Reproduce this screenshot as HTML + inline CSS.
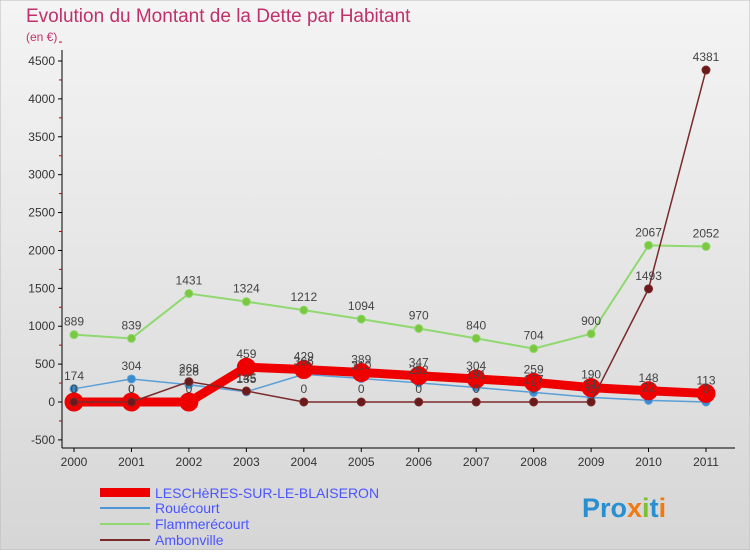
<!DOCTYPE html>
<html><head><meta charset="utf-8"><style>
body{margin:0;width:750px;height:550px;overflow:hidden;font-family:"Liberation Sans",sans-serif}
</style></head><body>
<svg width="750" height="550" xmlns="http://www.w3.org/2000/svg">
<defs><linearGradient id="bg" x1="0" y1="0" x2="0" y2="1"><stop offset="0" stop-color="#f4f4f4"/><stop offset="1" stop-color="#d6d6d6"/></linearGradient></defs>
<rect width="750" height="550" fill="url(#bg)" stroke="#bbb"/>
<text x="26" y="22" font-size="19" fill="#c0306a">Evolution du Montant de la Dette par Habitant</text>
<text x="26" y="41" font-size="12" fill="#c0306a">(en €)</text>
<g id="axes"></g><g id="series"></g><g id="labels"></g>
<g font-size="14">
<rect x="100" y="488" width="50" height="9" fill="#e00"/>
<text x="155" y="498" fill="#4a55ff">LESCHèRES-SUR-LE-BLAISERON</text>
<line x1="100" y1="508" x2="150" y2="508" stroke="#4a96d8" stroke-width="2"/>
<text x="155" y="513" fill="#4a55ff">Rouécourt</text>
<line x1="100" y1="524" x2="150" y2="524" stroke="#90d870" stroke-width="2"/>
<text x="155" y="529" fill="#4a55ff">Flammerécourt</text>
<line x1="100" y1="540" x2="150" y2="540" stroke="#7a2a2a" stroke-width="2"/>
<text x="155" y="545" fill="#4a55ff">Ambonville</text>
</g>
<text x="582" y="517" font-size="27" font-weight="bold" fill="#2a8fd0">Pro<tspan fill="#f07a10">x</tspan><tspan fill="#7ac030">i</tspan>t<tspan fill="#f07a10">i</tspan></text>
</svg>
<script>
const years=["2000","2001","2002","2003","2004","2005","2006","2007","2008","2009","2010","2011"];
const yTicks=[-500,0,500,1000,1500,2000,2500,3000,3500,4000,4500];
const lescheres=[0,0,0,459,429,389,347,304,259,190,148,113];
const rouecourt=[174,304,228,135,366,310,252,191,127,61,22,0];
const flammerecourt=[889,839,1431,1324,1212,1094,970,840,704,900,2067,2052];
const ambonville=[0,0,268,145,0,0,0,0,0,0,1493,4381];
const NS="http://www.w3.org/2000/svg";
const x=i=>74+i*(706-74)/11;
const y=v=>402-v*(402-61)/4500;
function mk(tag,attrs,parent,txt){const e=document.createElementNS(NS,tag);for(const k in attrs)e.setAttribute(k,attrs[k]);if(txt!==undefined)e.textContent=txt;document.getElementById(parent).appendChild(e);return e;}
let e;
e=mk('line',{x1:62,y1:50,x2:62,y2:448,stroke:'#000'},'axes');


e=mk('line',{x1:62,y1:448,x2:735,y2:448,stroke:'#000'},'axes');


yTicks.forEach(t=>{
 e=mk('line',{x1:58,y1:y(t),x2:62,y2:y(t),stroke:'#000'},'axes');
 
 
 e=mk('text',{x:55,y:y(t)+4,'text-anchor':'end','font-size':12,fill:'#333'},'axes',String(t));
 
 
 e=mk('line',{x1:59,y1:y(t+250),x2:62,y2:y(t+250),stroke:'#c00'},'axes');
 
 
});
years.forEach((yr,i)=>{
 e=mk('line',{x1:x(i),y1:448,x2:x(i),y2:452,stroke:'#000'},'axes');
 
 
 e=mk('text',{x:x(i),y:466,'text-anchor':'middle','font-size':12,fill:'#333'},'axes',yr);
 
 
});
function series(data,name,color,w,r,dot){
 const pts=data.map((v,i)=>x(i)+','+y(v)).join(' ');
 e=mk('polyline',{points:pts,fill:'none',stroke:color,'stroke-width':w,'stroke-linejoin':'round'},'series');
 
 
 data.forEach((v,i)=>{
  e=mk('circle',{cx:x(i),cy:y(v),r:r,fill:dot,stroke:color,'stroke-width':1},'series');
  
  
  e=mk('text',{x:x(i),y:y(v)-9,'text-anchor':'middle','font-size':12,fill:'#444'},'labels',String(v));
  
  
 });
}
series(flammerecourt,'flammerecourt','#90d870',2,4,'#7ac840');
series(rouecourt,'rouecourt','#5a9fd8',1.5,4,'#3a8ad0');
series(lescheres,'lescheres','#ee0000',9,9,'#ee0000');
series(ambonville,'ambonville','#7a2a2a',1.5,4,'#6a1a1a');
</script>
</body></html>
